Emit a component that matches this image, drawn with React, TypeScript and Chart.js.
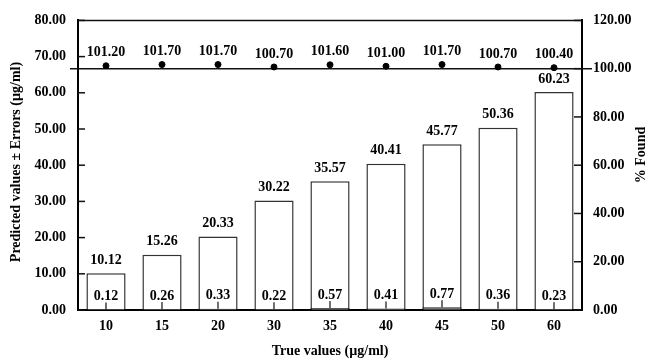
import React, { useEffect, useRef } from "react";
import { Chart, registerables } from "chart.js";

Chart.register(...registerables);

const categories = ["10", "15", "20", "30", "35", "40", "45", "50", "60"];
const predictedValues = [10.12, 15.26, 20.33, 30.22, 35.57, 40.41, 45.77, 50.36, 60.23];
const errorValues = [0.12, 0.26, 0.33, 0.22, 0.57, 0.41, 0.77, 0.36, 0.23];
const percentFound = [101.2, 101.7, 101.7, 100.7, 101.6, 101.0, 101.7, 100.7, 100.4];
const referencePercent = 100;
const leftAxisRange = [0, 80];
const rightAxisRange = [0, 120];

const FONT = "'Liberation Serif', 'Times New Roman', serif";

const overlayPlugin = {
  id: "overlay",
  beforeDatasetsDraw(chart: any) {
    const ctx = chart.ctx;
    const { left, right, top } = chart.chartArea;
    const y = chart.scales.y;
    const y2 = chart.scales.y2;
    ctx.save();
    ctx.strokeStyle = "#111";
    ctx.lineWidth = 1.5;
    const line = (x1: number, y1: number, x2: number, yy2: number) => {
      ctx.beginPath();
      ctx.moveTo(x1, y1);
      ctx.lineTo(x2, yy2);
      ctx.stroke();
    };
    line(left, top, right, top);
    const ry = y2.getPixelForValue(referencePercent);
    line(left - 8, ry, right + 10, ry);
    y.ticks.forEach((t: any) => {
      const py = y.getPixelForValue(t.value);
      line(left, py, left + 7, py);
    });
    y2.ticks.forEach((t: any) => {
      const py = y2.getPixelForValue(t.value);
      line(right - 8, py, right, py);
    });
    ctx.restore();
  },
  afterDatasetsDraw(chart: any) {
    const ctx = chart.ctx;
    ctx.save();
    ctx.fillStyle = "#000";
    ctx.strokeStyle = "#111";
    ctx.lineWidth = 1.2;
    chart.getDatasetMeta(1).data.forEach((el: any) => {
      ctx.beginPath();
      ctx.moveTo(el.x, el.y);
      ctx.lineTo(el.x, el.y - 7);
      ctx.stroke();
    });
    ctx.font = `bold 14px ${FONT}`;
    ctx.textAlign = "center";
    ctx.textBaseline = "middle";
    [0, 1, 2].forEach((di) => {
      const ds = chart.data.datasets[di];
      chart.getDatasetMeta(di).data.forEach((el: any, i: number) => {
        ctx.fillText((ds.data[i] as number).toFixed(2), el.x, el.y - 13);
      });
    });
    ctx.font = `bold 14px ${FONT}`;
    ctx.fillText("True values (\u00b5g/ml)", (chart.chartArea.left + chart.chartArea.right) / 2, 351);
    ctx.save();
    ctx.translate(16, 162);
    ctx.rotate(-Math.PI / 2);
    ctx.fillText("Predicted values \u00b1 Errors (\u00b5g/ml)", 0, 0);
    ctx.restore();
    ctx.save();
    ctx.translate(641, 155);
    ctx.rotate(-Math.PI / 2);
    ctx.fillText("% Found", 0, 0);
    ctx.restore();
    ctx.restore();
  },
};

export default function App() {
  const ref = useRef<HTMLCanvasElement | null>(null);
  useEffect(() => {
    if (!ref.current) return;
    const tickFont = { family: FONT, size: 14, weight: "bold" as const };
    const chart = new Chart(ref.current, {
      type: "bar",
      data: {
        labels: categories,
        datasets: [
          {
            type: "bar",
            label: "Predicted values",
            data: predictedValues,
            backgroundColor: "#ffffff",
            borderColor: "#333333",
            borderWidth: 1.5,
            yAxisID: "y",
            grouped: false,
            barPercentage: 0.7,
            categoryPercentage: 1,
            order: 3,
          },
          {
            type: "bar",
            label: "Errors",
            data: errorValues,
            backgroundColor: "#555555",
            borderColor: "#222222",
            borderWidth: 1,
            yAxisID: "y",
            grouped: false,
            barPercentage: 0.7,
            categoryPercentage: 1,
            order: 2,
          },
          {
            type: "line",
            label: "% Found",
            data: percentFound,
            yAxisID: "y2",
            showLine: false,
            pointRadius: 3,
            pointBackgroundColor: "#000",
            pointBorderColor: "#000",
            order: 1,
          } as any,
        ],
      },
      options: {
        responsive: false,
        animation: false,
        layout: { padding: { top: 19, left: 0, right: 0, bottom: 0 } },
        plugins: { legend: { display: false }, tooltip: { enabled: false } },
        scales: {
          x: {
            offset: true,
            grid: { display: false, drawTicks: false },
            border: { display: true, color: "#000", width: 2 },
            ticks: { font: tickFont, color: "#000", padding: 8 },
            afterFit: (s: any) => {
              s.height = 51;
            },
          },
          y: {
            position: "left",
            min: leftAxisRange[0],
            max: leftAxisRange[1],
            grid: { drawOnChartArea: false, drawTicks: false },
            border: { display: true, color: "#000", width: 2 },
            ticks: {
              stepSize: 10,
              font: tickFont,
              color: "#000",
              padding: 12,
              callback: (v: any) => Number(v).toFixed(2),
            },
            afterFit: (s: any) => {
              s.width = 78;
            },
          },
          y2: {
            position: "right",
            min: rightAxisRange[0],
            max: rightAxisRange[1],
            grid: { drawOnChartArea: false, drawTicks: false },
            border: { display: true, color: "#000", width: 2 },
            ticks: {
              stepSize: 20,
              font: tickFont,
              color: "#000",
              padding: 11,
              callback: (v: any) => Number(v).toFixed(2),
            },
            afterFit: (s: any) => {
              s.width = 65;
            },
          },
        },
      },
      plugins: [overlayPlugin],
    });
    return () => chart.destroy();
  }, []);
  return (
    <div style={{ position: "absolute", left: 0, top: 0, width: 647, height: 361, background: "#fff" }}>
      <canvas ref={ref} width={647} height={361} style={{ display: "block" }} />
    </div>
  );
}
